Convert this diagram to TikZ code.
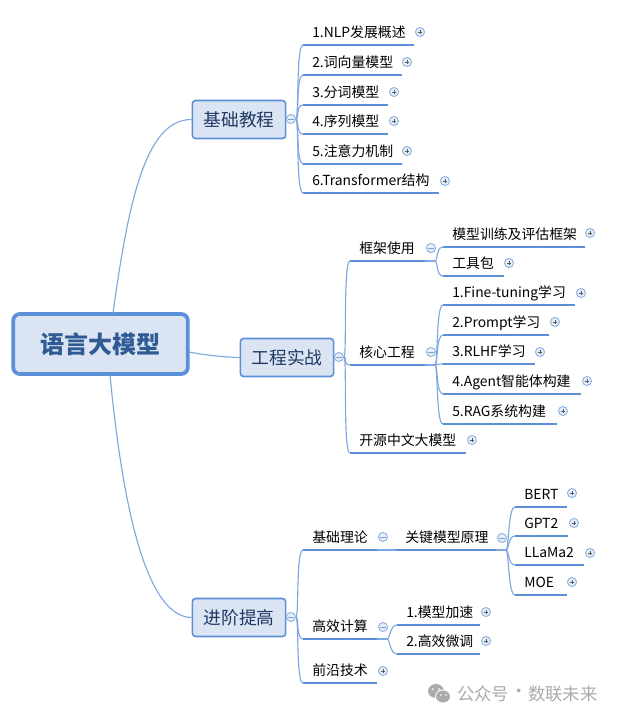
\documentclass[tikz,border=0pt]{standalone}
\usepackage{fontspec}
\setmainfont{Noto Sans CJK SC}
\definecolor{boxfill}{HTML}{DAE4F2}
\definecolor{boxline}{HTML}{5B8FD8}
\definecolor{thinline}{HTML}{7FA8DE}
\definecolor{rootink}{HTML}{2F5A94}
\definecolor{boxink}{HTML}{1F3864}
\definecolor{mkfill}{HTML}{E6EEF8}
\definecolor{mkline}{HTML}{8FB2E0}
\definecolor{wmark}{HTML}{ABABAB}
\tikzset{
  x=0.75pt,y=-0.75pt,
  rootbox/.style={draw=boxline,fill=boxfill,line width=2.8pt,rounded corners=5pt,minimum width=131pt,minimum height=45pt,inner sep=0pt,text=rootink,font=\fontsize{18}{20}\selectfont\bfseries},
  mainbox/.style={draw=boxline,fill=boxfill,line width=1.2pt,rounded corners=2.5pt,minimum width=70pt,minimum height=28.5pt,inner sep=0pt,text=boxink,font=\fontsize{13.3}{15}\selectfont},
  leafbox/.style={anchor=south west,inner xsep=0pt,inner ysep=0pt,minimum height=19.5pt,align=left,text height=10.2pt,text depth=2pt,text=black,font=\fontsize{10.4}{12}\selectfont},
  uline/.style={draw=boxline,line width=2.1pt},
  branch/.style={draw=thinline,line width=0.85pt},
  markbase/.style={circle,draw=mkline,fill=mkfill,line width=0.7pt,minimum size=6.8pt,inner sep=0pt},
  plusmark/.style={markbase,path picture={
    \draw[line width=0.6pt,draw=black!65] ([xshift=-1.8pt]path picture bounding box.center) -- ([xshift=1.8pt]path picture bounding box.center);
    \draw[line width=0.6pt,draw=black!65] ([yshift=-1.8pt]path picture bounding box.center) -- ([yshift=1.8pt]path picture bounding box.center);}},
  minusmark/.style={markbase,path picture={
    \draw[line width=0.6pt,draw=mkline!90!black] ([xshift=-2pt]path picture bounding box.center) -- ([xshift=2pt]path picture bounding box.center);}},
  wmtext/.style={anchor=west,inner sep=0pt,text=wmark,font=\fontsize{13}{14}\selectfont},
}
\newcommand\leaf[5]{%
  \pgfmathsetmacro\leafw{(#3-#2)*0.75}%
  \node[leafbox,text width=\leafw pt] (#1) at (#2,#4) {\hspace{6.75pt}#5};
  \draw[uline] (#1.south west) -- (#1.south east);
}
\newcommand\plusat[3]{\node[plusmark] (#1) at (#2,#3) {};}
\newcommand\minusat[3]{\node[minusmark] (#1) at (#2,#3) {};}
\newcommand\bend[2]{\draw[branch] (#1) .. controls +(3,0) and +(-7,0) .. (#2.south west);}
\begin{document}
\begin{tikzpicture}
\useasboundingbox (0,0) rectangle (619,719);
\fill[white] (0,0) rectangle (619,719);

\node[rootbox] (root) at (100.5,344) {语言大模型};
\node[mainbox] (jc) at (239,119.5) {基础教程};
\node[mainbox] (gc) at (287,357.5) {工程实战};
\node[mainbox] (jj) at (239,617.5) {进阶提高};
\draw[branch] (113,313) .. controls (128,205) and (145,119) .. (jc.west);
\draw[branch] (189,352) .. controls (205,355) and (222,357) .. (gc.west);
\draw[branch] (110,375) .. controls (122,500) and (145,617) .. (jj.west);

% group 1
\minusat{mjc}{291}{119}
\leaf{a1}{303}{413}{45}{1.NLP发展概述}
\leaf{a2}{303}{401}{75}{2.词向量模型}
\leaf{a3}{303}{387}{105}{3.分词模型}
\leaf{a4}{303}{387}{134}{4.序列模型}
\leaf{a5}{303}{401}{164}{5.注意力机制}
\leaf{a6}{303}{438}{193}{6.Transformer结构}
\foreach \n in {a1,a2,a3,a4,a5,a6}{\bend{mjc.east}{\n}}
\plusat{pa1}{420}{32}\plusat{pa2}{407}{62}\plusat{pa3}{394}{92}
\plusat{pa4}{394}{121}\plusat{pa5}{407}{151}\plusat{pa6}{445}{181}

% group 2
\minusat{mgc}{339}{357}
\leaf{b1}{350}{424}{261}{框架使用}
\leaf{b2}{350}{424}{365}{核心工程}
\leaf{b3}{350}{465}{453}{开源中文大模型}
\foreach \n in {b1,b2,b3}{\bend{mgc.east}{\n}}
\minusat{mb1}{431}{248}
\minusat{mb2}{431}{352}
\plusat{pb3}{472}{440}
\coordinate (hb1) at (435,261);
\coordinate (hb2) at (435,365);
\draw[branch] (b1.south east) -- (hb1);
\draw[branch] (b2.south east) -- (hb2);
\leaf{c1}{443}{584}{247}{模型训练及评估框架}
\leaf{c2}{443}{503}{276}{工具包}
\foreach \n in {c1,c2}{\bend{hb1}{\n}}
\plusat{pc1}{590}{233}\plusat{pc2}{509}{263}
\leaf{d1}{443}{574}{305}{1.Fine-tuning学习}
\leaf{d2}{443}{548}{335}{2.Prompt学习}
\leaf{d3}{443}{534}{364}{3.RLHF学习}
\leaf{d4}{443}{580}{394}{4.Agent智能体构建}
\leaf{d5}{443}{556}{424}{5.RAG系统构建}
\foreach \n in {d1,d2,d3,d4,d5}{\bend{hb2}{\n}}
\plusat{pd1}{581}{293}\plusat{pd2}{555}{322}\plusat{pd3}{540}{352}
\plusat{pd4}{587}{381}\plusat{pd5}{563}{411}

% group 3
\minusat{mjj}{291}{617}
\leaf{e1}{303}{376}{550}{基础理论}
\leaf{e2}{303}{376}{639}{高效计算}
\leaf{e3}{303}{376}{683}{前沿技术}
\foreach \n in {e1,e2,e3}{\bend{mjj.east}{\n}}
\minusat{me1}{383}{537}
\minusat{me2}{383}{627}
\plusat{pe3}{383}{671}
\leaf{f1}{396}{495}{550}{关键模型原理}
\draw[branch] (e1.south east) -- (f1.south west);
\minusat{mf1}{502}{538}
\coordinate (hf1) at (506,550);
\draw[branch] (f1.south east) -- (hf1);
\leaf{g1}{515}{566}{507}{BERT}
\leaf{g2}{515}{567}{536}{GPT2}
\leaf{g3}{515}{583}{565}{LLaMa2}
\leaf{g4}{515}{566}{595}{MOE}
\foreach \n in {g1,g2,g3,g4}{\bend{hf1}{\n}}
\plusat{pg1}{572}{493}\plusat{pg2}{574}{523}\plusat{pg3}{590}{553}\plusat{pg4}{572}{582}
\coordinate (he2) at (387,639);
\draw[branch] (e2.south east) -- (he2);
\leaf{h1}{397}{479}{625}{1.模型加速}
\leaf{h2}{397}{479}{654}{2.高效微调}
\foreach \n in {h1,h2}{\bend{he2}{\n}}
\plusat{ph1}{486}{612}\plusat{ph2}{486}{641}

% watermark
\fill[wmark] (436,691) ellipse (8 and 7);
\fill[white] (443,696.5) ellipse (8 and 7);
\fill[wmark] (443,696.5) ellipse (7 and 6);
\fill[white] (433,689) circle (1) (439,689) circle (1) (441,695) circle (0.9) (446,695) circle (0.9);
\node[wmtext] (wm1) at (457,693.5) {公众号};
\node[wmtext] (wmdot) at (510,693.5) {·};
\node[wmtext] (wm2) at (528,693.5) {数联未来};
\end{tikzpicture}
\end{document}
